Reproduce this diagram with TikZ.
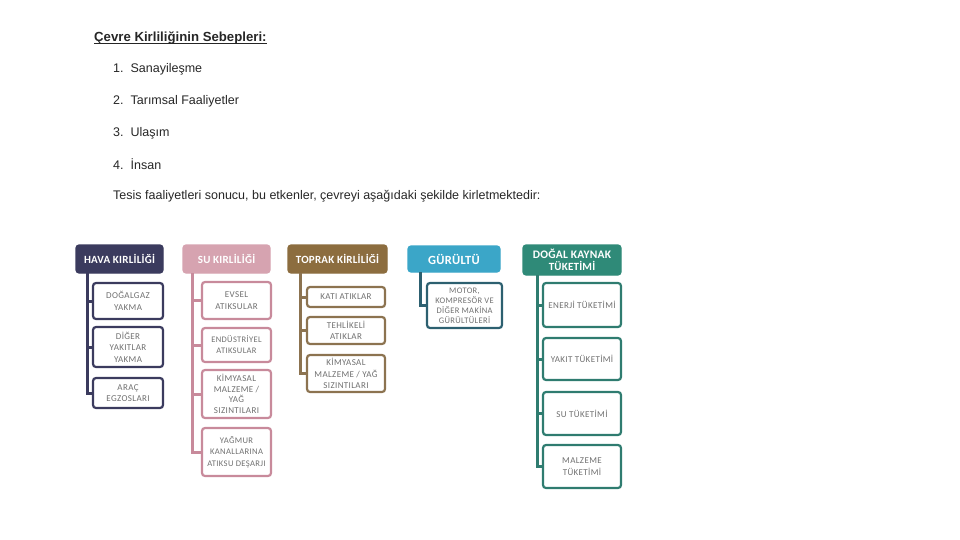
\documentclass[tikz,border=0pt]{standalone}
\usepackage{fontspec}
\setmainfont{Liberation Sans}
\newfontfamily\boxfont[LetterSpace=4]{Carlito}
\newfontfamily\headfont[LetterSpace=2]{Carlito}
\definecolor{cnavy}{HTML}{3B3B5E}
\definecolor{cpink}{HTML}{D6A3B0}
\definecolor{cpinkb}{HTML}{C88A9B}
\definecolor{colive}{HTML}{8C6D3F}
\definecolor{colivb}{HTML}{8C7350}
\definecolor{cblue}{HTML}{3BA6C8}
\definecolor{cbluek}{HTML}{2D6070}
\definecolor{cgreen}{HTML}{2F8A78}
\definecolor{cgreenb}{HTML}{2F7C70}
\definecolor{ctxt}{HTML}{707070}
\tikzset{
  head/.style={draw=#1, fill=#1, line width=1.2pt, rounded corners=3pt, anchor=north west,
    inner sep=0pt, outer sep=0pt, text=white, align=center,
    font=\headfont\bfseries\fontsize{11}{11.5}\selectfont},
  child/.style={draw=#1, fill=white, line width=2.2pt, rounded corners=3pt, anchor=north west,
    inner sep=0pt, outer sep=0pt, text=ctxt, align=center,
    font=\boxfont\fontsize{9}{11.5}\selectfont},
  conn/.style={draw=#1, line width=3pt},
  para/.style={anchor=west, inner sep=0pt, font=\fontsize{12.5}{14}\selectfont, text=black!85}
}
\begin{document}
\begin{tikzpicture}[x=1pt,y=-1pt]
\useasboundingbox (0,0) rectangle (960,540);
% text
\node[para, font=\bfseries\fontsize{13.2}{15}\selectfont] (title) at (94,38) {Çevre Kirliliğinin Sebepleri:};
\draw[line width=0.9pt, black!85] ([yshift=-2.2pt]title.base west) -- ([yshift=-2.2pt]title.base east);
\node[para] (l1) at (113,69) {1.\hspace{7pt}Sanayileşme};
\node[para] (l2) at (113,101) {2.\hspace{7pt}Tarımsal Faaliyetler};
\node[para] (l3) at (113,133) {3.\hspace{7pt}Ulaşım};
\node[para] (l4) at (113,164) {4.\hspace{7pt}İnsan};
\node[para] (l5) at (113,196) {Tesis faaliyetleri sonucu, bu etkenler, çevreyi aşağıdaki şekilde kirletmektedir:};

% HAVA
\node[head=cnavy, minimum width=87pt, minimum height=28pt] (h1) at (76,245) {HAVA KIRLİLİĞİ};
\node[child=cnavy, minimum width=70pt, minimum height=36pt] (c11) at (93,283) {DOĞALGAZ\\YAKMA};
\node[child=cnavy, minimum width=70pt, minimum height=40pt] (c12) at (93,327) {DİĞER\\YAKITLAR\\YAKMA};
\node[child=cnavy, minimum width=70pt, minimum height=30pt] (c13) at (93,378) {ARAÇ\\EGZOSLARI};
\coordinate (v1) at (87,273);
\draw[conn=cnavy] (v1) |- (c13.west);
\draw[conn=cnavy] (c11.west) -- (c11.west -| v1);
\draw[conn=cnavy] (c12.west) -- (c12.west -| v1);

% SU
\node[head=cpink, minimum width=87pt, minimum height=28pt] (h2) at (183,245) {SU KIRLİLİĞİ};
\node[child=cpinkb, minimum width=69pt, minimum height=37pt] (c21) at (202,282) {EVSEL\\ATIKSULAR};
\node[child=cpinkb, minimum width=69pt, minimum height=34pt, font=\boxfont\fontsize{8.5}{11}\selectfont] (c22) at (202,328) {ENDÜSTRİYEL\\ATIKSULAR};
\node[child=cpinkb, minimum width=69pt, minimum height=48pt, font=\boxfont\fontsize{9}{10.5}\selectfont] (c23) at (202,370) {KİMYASAL\\MALZEME /\\YAĞ\\SIZINTILARI};
\node[child=cpinkb, minimum width=69pt, minimum height=48pt, font=\boxfont\fontsize{8.6}{11.5}\selectfont] (c24) at (202,428) {YAĞMUR\\KANALLARINA\\ATIKSU DEŞARJI};
\coordinate (v2) at (192,273);
\draw[conn=cpinkb] (v2) |- (c24.west);
\draw[conn=cpinkb] (c21.west) -- (c21.west -| v2);
\draw[conn=cpinkb] (c22.west) -- (c22.west -| v2);
\draw[conn=cpinkb] (c23.west) -- (c23.west -| v2);

% TOPRAK
\node[head=colive, minimum width=99pt, minimum height=28pt] (h3) at (288,245) {TOPRAK KİRLİLİĞİ};
\node[child=colivb, minimum width=78pt, minimum height=20pt] (c31) at (307,287) {KATI ATIKLAR};
\node[child=colivb, minimum width=78pt, minimum height=27pt] (c32) at (307,317) {TEHLİKELİ\\ATIKLAR};
\node[child=colivb, minimum width=78pt, minimum height=37pt] (c33) at (307,355) {KİMYASAL\\MALZEME / YAĞ\\SIZINTILARI};
\coordinate (v3) at (300,273);
\draw[conn=colivb] (v3) |- (c33.west);
\draw[conn=colivb] (c31.west) -- (c31.west -| v3);
\draw[conn=colivb] (c32.west) -- (c32.west -| v3);

% GURULTU
\node[head=cblue, minimum width=92pt, minimum height=26pt] (h4) at (408,246) {\fontsize{12.5}{13}\selectfont GÜRÜLTÜ};
\node[child=cbluek, minimum width=75pt, minimum height=45pt, font=\boxfont\fontsize{8.5}{10}\selectfont] (c41) at (427,283) {MOTOR,\\KOMPRESÖR VE\\DİĞER MAKİNA\\GÜRÜLTÜLERİ};
\coordinate (v4) at (420,272);
\draw[conn=cbluek] (v4) |- (c41.west);

% DOGAL KAYNAK
\node[head=cgreen, minimum width=98pt, minimum height=30pt] (h5) at (523,245) {\fontsize{11.5}{11.5}\selectfont DOĞAL KAYNAK\\TÜKETİMİ};
\node[child=cgreenb, minimum width=78pt, minimum height=44pt] (c51) at (543,283) {ENERJİ TÜKETİMİ};
\node[child=cgreenb, minimum width=78pt, minimum height=42pt] (c52) at (543,338) {YAKIT TÜKETİMİ};
\node[child=cgreenb, minimum width=78pt, minimum height=43pt] (c53) at (543,392) {SU TÜKETİMİ};
\node[child=cgreenb, minimum width=78pt, minimum height=43pt] (c54) at (543,445) {MALZEME\\TÜKETİMİ};
\coordinate (v5) at (537,275);
\draw[conn=cgreenb] (v5) |- (c54.west);
\draw[conn=cgreenb] (c51.west) -- (c51.west -| v5);
\draw[conn=cgreenb] (c52.west) -- (c52.west -| v5);
\draw[conn=cgreenb] (c53.west) -- (c53.west -| v5);
\end{tikzpicture}
\end{document}
